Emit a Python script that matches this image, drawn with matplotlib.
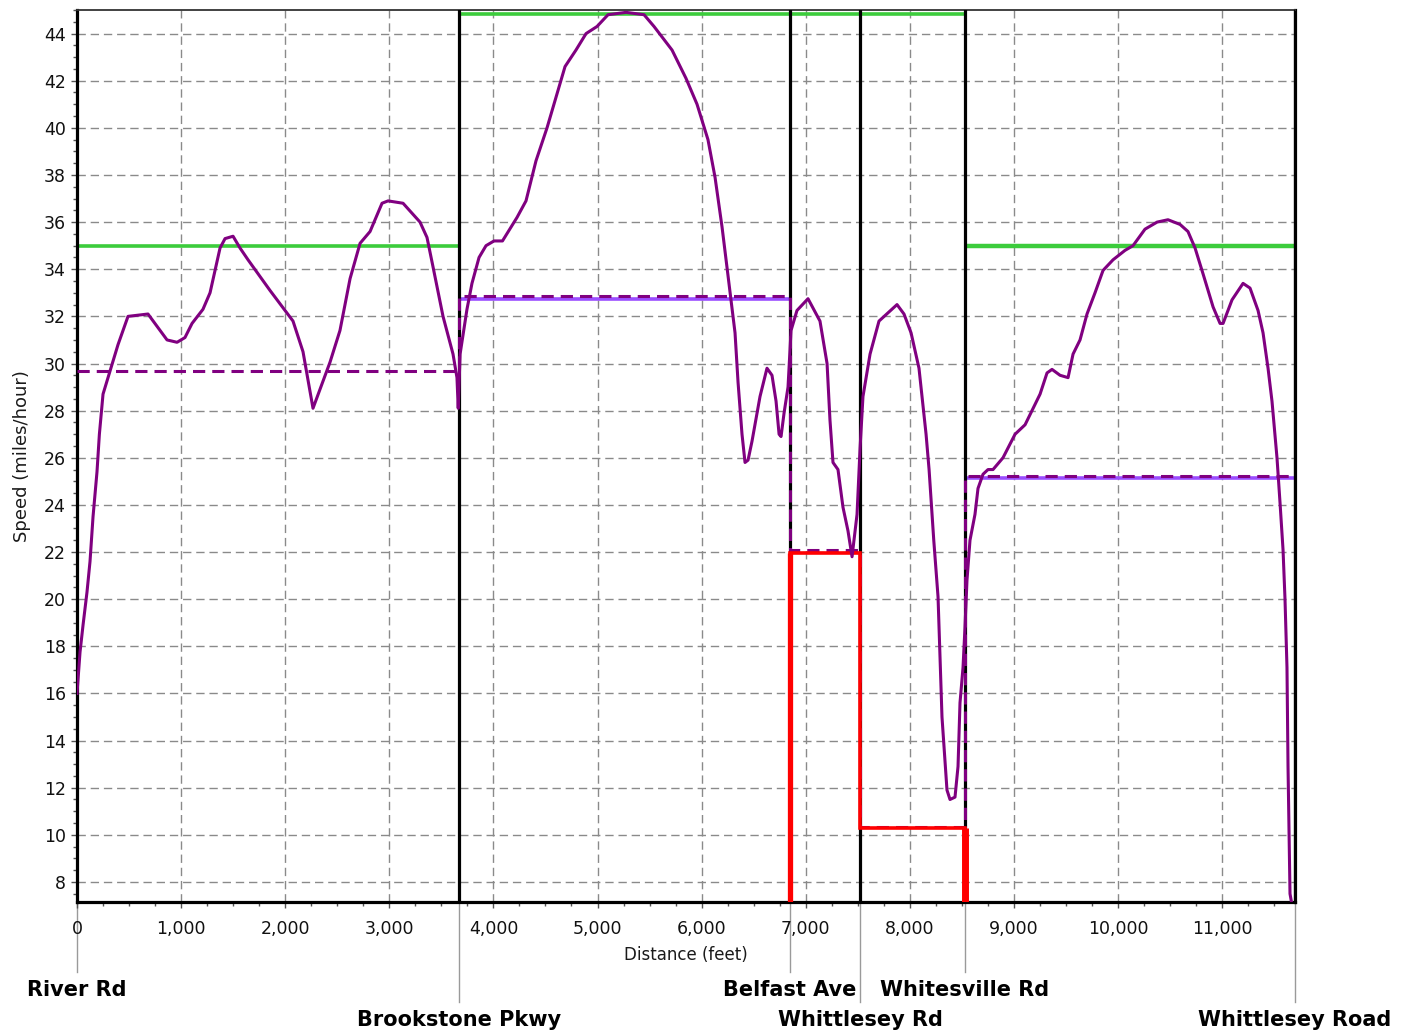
import numpy as np
import matplotlib
matplotlib.use("Agg")
import matplotlib.pyplot as plt
from matplotlib.ticker import MultipleLocator, FuncFormatter
import matplotlib.transforms as mtransforms

# ---------------- data ----------------
dist_ft = [0, 29, 58, 96, 125, 154, 192, 215, 250, 298, 394, 490, 682, 865, 961, 1037, 1105,
           1210, 1278, 1374, 1422, 1499, 1566, 1643, 1854, 2075, 2171, 2267, 2334, 2430, 2526,
           2623, 2719, 2815, 2930, 2988, 3132, 3295, 3362, 3420, 3516, 3612, 3650, 3662,
           3680, 3746, 3794, 3862, 3929, 4006, 4087, 4227, 4313, 4409, 4515, 4621, 4688, 4793,
           4890, 4995, 5101, 5274, 5447, 5543, 5716, 5850, 5956, 6061, 6129, 6196, 6263, 6321,
           6350, 6388, 6417, 6446, 6484, 6561, 6628, 6676, 6715, 6744, 6763, 6792, 6830,
           6859, 6916, 7022, 7137, 7205, 7233, 7262, 7310, 7358, 7406, 7445, 7493, 7522,
           7550, 7618, 7704, 7877, 7944, 8012, 8088, 8156, 8185, 8230, 8271, 8309, 8357, 8386,
           8434, 8463, 8482, 8511,
           8530, 8549, 8578, 8626, 8655, 8703, 8751, 8799, 8895, 9011, 9107, 9251, 9318, 9366,
           9443, 9520, 9568, 9635, 9702, 9779, 9856, 9952, 10067, 10144, 10259, 10375, 10480,
           10596, 10672, 10740, 10817, 10913, 10980, 11009, 11095, 11201, 11268, 11345, 11393,
           11441, 11479, 11527, 11556, 11585, 11604, 11623, 11633, 11652, 11680]
speed_mph = [16.0, 17.75, 18.9, 20.3, 21.6, 23.5, 25.4, 27.0, 28.7, 29.4, 30.8, 32.0, 32.1, 31.0,
             30.9, 31.1, 31.7, 32.3, 33.0, 34.9, 35.3, 35.4, 34.9, 34.4, 33.1, 31.8, 30.5, 28.1,
             28.9, 30.05, 31.4, 33.6, 35.1, 35.6, 36.8, 36.9, 36.8, 36.0, 35.35, 34.1, 32.0,
             30.4, 29.4, 28.1,
             30.4, 32.3, 33.4, 34.5, 35.0, 35.2, 35.2, 36.2, 36.9, 38.6, 40.0, 41.6, 42.6, 43.3,
             44.0, 44.3, 44.8, 44.9, 44.8, 44.3, 43.3, 42.1, 41.0, 39.5, 37.9, 35.8, 33.4, 31.3,
             29.2, 27.0, 25.8, 25.9, 26.7, 28.6, 29.8, 29.5, 28.4, 27.0, 26.9, 27.9, 29.0,
             31.4, 32.25, 32.75, 31.8, 30.0, 27.6, 25.8, 25.5, 23.9, 22.9, 21.8, 23.6, 26.4,
             28.6, 30.4, 31.8, 32.5, 32.1, 31.3, 29.8, 27.0, 25.5, 22.5, 20.1, 15.0, 11.9, 11.5,
             11.6, 12.9, 15.6, 17.1,
             18.8, 20.8, 22.5, 23.6, 24.7, 25.3, 25.5, 25.5, 26.0, 27.0, 27.4, 28.7, 29.6, 29.75,
             29.5, 29.4, 30.4, 31.0, 32.1, 33.0, 33.95, 34.4, 34.8, 35.0, 35.7, 36.0, 36.1,
             35.9, 35.6, 34.9, 33.8, 32.4, 31.7, 31.7, 32.7, 33.4, 33.2, 32.25, 31.3,
             29.8, 28.4, 26.0, 24.1, 22.1, 20.0, 17.1, 12.9, 7.5, 6.8]

section_bounds = [0, 3669, 6849, 7522, 8530, 11700]
section_names = ["River Rd", "Brookstone Pkwy", "Belfast Ave", "Whittlesey Rd",
                 "Whitesville Rd", "Whittlesey Road"]
speed_limit = [35, 45, 45, 45, 35]
avg_speed_dashed = [29.7, 32.85, 22.1, 10.35, 25.23]
avg_speed_solid = [np.nan, 32.72, np.nan, np.nan, 25.13]
red_levels = [21.95, 10.3]
red_bounds = [6849, 7522, 8530]

x_ticks = list(range(0, 12000, 1000))
y_ticks = list(range(8, 46, 2))

# ---------------- figure ----------------
W, H = 1408, 1036
fig = plt.figure(figsize=(W / 100, H / 100), dpi=100)
ax = fig.add_axes([77 / W, 1 - 902 / H, (1295 - 77) / W, (902 - 10) / H])
ymin, ymax = 7.15, 45.0
ax.set_xlim(0, 11700)
ax.set_ylim(ymin, ymax)

# grid
grid_kw = dict(color="#8a8a8a", lw=1.0, ls=(0, (6, 3.5)), zorder=1)
for xv in x_ticks[1:]:
    ax.axvline(xv, **grid_kw)
for yv in y_ticks:
    ax.axhline(yv, **grid_kw)

# speed limit (green); lines at the top edge are nudged inside the frame so they show
for i, lim in enumerate(speed_limit):
    tr = ax.transData
    if lim >= ymax:
        tr = ax.transData + mtransforms.ScaledTranslation(0, -2.6 / 72, fig.dpi_scale_trans)
    ax.hlines(lim, section_bounds[i], section_bounds[i + 1], color="#3ccc3c",
              lw=3.2 if i == 4 else 2.6, zorder=2, transform=tr)

# violet solid averages
for i, v in enumerate(avg_speed_solid):
    if not np.isnan(v):
        ax.hlines(v, section_bounds[i], section_bounds[i + 1], color="#9a4dff",
                  lw=2.6, zorder=2.5)

# section lines (black)
for xb in section_bounds[1:]:
    ax.axvline(xb, color="black", lw=2.3, zorder=3)

# dashed step average
step_x = section_bounds
step_y = avg_speed_dashed + [avg_speed_dashed[-1]]
ax.step(step_x, step_y, where="post", color="#800080", lw=2.2,
        ls=(0, (4, 2.3)), zorder=4)

# red steps
rx = [red_bounds[0], red_bounds[0], red_bounds[1], red_bounds[1], red_bounds[2], red_bounds[2]]
ry = [ymin, red_levels[0], red_levels[0], red_levels[1], red_levels[1], ymin]
ax.plot(rx, ry, color="#ff0000", lw=2.6, zorder=4.5, solid_joinstyle="miter")
ax.vlines([red_bounds[0]], ymin, red_levels[0], color="#ff0000", lw=3.8, zorder=4.5)
ax.vlines([red_bounds[2]], ymin, red_levels[1], color="#ff0000", lw=5.0, zorder=4.5)

# speed profile
ax.plot(dist_ft, speed_mph, color="#800080", lw=2.2, zorder=5)

# axes styling
for s in ["left", "bottom"]:
    ax.spines[s].set_linewidth(2.3)
    ax.spines[s].set_color("black")
ax.spines["top"].set_linewidth(1.3)
ax.spines["top"].set_color("#333333")
ax.spines["right"].set_linewidth(2.3)

ax.set_xticks(x_ticks)
ax.xaxis.set_major_formatter(FuncFormatter(lambda v, p: f"{int(v):,}"))
ax.xaxis.set_minor_locator(MultipleLocator(250))
ax.set_yticks(y_ticks)
ax.yaxis.set_minor_locator(MultipleLocator(0.5))
ax.tick_params(axis="both", which="major", labelsize=12.5, colors="#555555",
               labelcolor="#111111", length=4, width=1)
ax.tick_params(axis="both", which="minor", colors="#555555", length=3, width=1)
ax.tick_params(axis="x", which="major", pad=9)
ax.tick_params(axis="y", which="major", pad=4)

ax.text(0.5, -0.0594, "Distance (feet)", transform=ax.transAxes, ha="center",
        va="center", fontsize=12, color="#1a1a1a")
ax.text(-0.0455, 0.5, "Speed (miles/hour)", transform=ax.transAxes, ha="center",
        va="center", rotation=90, fontsize=13, color="#1a1a1a")

# street labels
trans = mtransforms.blended_transform_factory(ax.transData, ax.transAxes)
for i, (xb, name) in enumerate(zip(section_bounds, section_names)):
    low = i % 2 == 1
    y_end = -0.1121 if low else -0.0785
    y_txt = -0.1323 if low else -0.0987
    ax.plot([xb, xb], [0, y_end], transform=trans, color="#9a9a9a", lw=1.0,
            clip_on=False, zorder=0)
    ax.text(xb, y_txt, name, transform=trans, ha="center", va="center",
            fontsize=15, fontweight="bold", color="black")

fig.savefig("out.png", dpi=100)
